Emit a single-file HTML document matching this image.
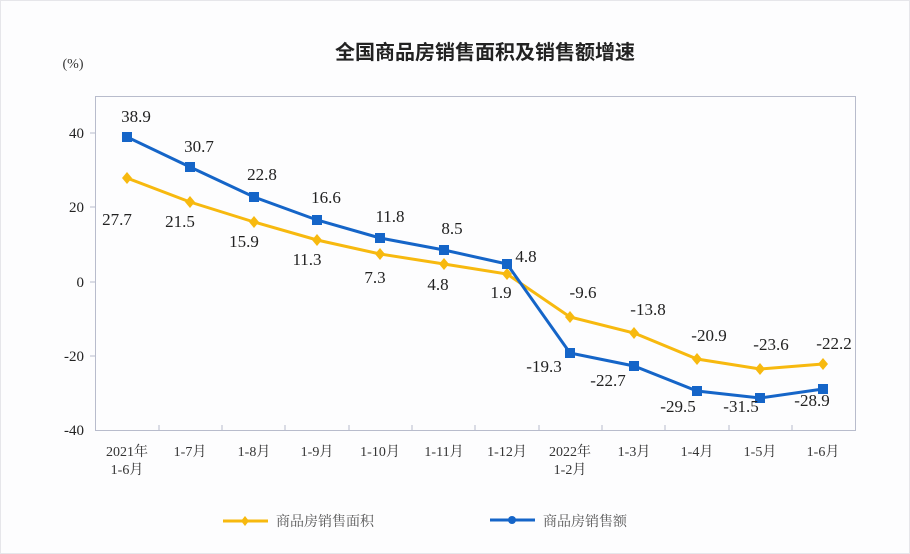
<!DOCTYPE html>
<html><head><meta charset="utf-8"><style>
html,body{margin:0;padding:0;background:#fff;}
svg{display:block;font-family:"Liberation Serif","Noto Serif CJK SC",serif;}
</style></head><body>
<svg width="910" height="554" viewBox="0 0 910 554" xmlns="http://www.w3.org/2000/svg">
<rect x="0.5" y="0.5" width="909" height="553" fill="#fdfdfe" stroke="#e6e6ea"/>
<text x="485" y="59" text-anchor="middle" font-size="20" font-weight="bold" font-family="Liberation Sans,'Noto Sans CJK SC',sans-serif" fill="#222">全国商品房销售面积及销售额增速</text>
<text x="73" y="68" text-anchor="middle" font-size="14" fill="#333">(%)</text>
<rect x="95.5" y="96.5" width="760" height="334" fill="none" stroke="#b8bccc" stroke-width="1"/>
<g font-size="15" fill="#222" text-anchor="end">
<text x="84" y="138">40</text><text x="84" y="212">20</text><text x="84" y="287">0</text><text x="84" y="361">-20</text><text x="84" y="435">-40</text>
</g>
<g stroke="#b8bccc"><line x1="90" y1="133" x2="96" y2="133"/><line x1="90" y1="207" x2="96" y2="207"/><line x1="90" y1="282" x2="96" y2="282"/><line x1="90" y1="356" x2="96" y2="356"/>
<line x1="159" y1="425" x2="159" y2="431"/><line x1="222" y1="425" x2="222" y2="431"/><line x1="285" y1="425" x2="285" y2="431"/><line x1="349" y1="425" x2="349" y2="431"/><line x1="412" y1="425" x2="412" y2="431"/><line x1="475" y1="425" x2="475" y2="431"/><line x1="539" y1="425" x2="539" y2="431"/><line x1="602" y1="425" x2="602" y2="431"/><line x1="665" y1="425" x2="665" y2="431"/><line x1="729" y1="425" x2="729" y2="431"/><line x1="792" y1="425" x2="792" y2="431"/></g>
<g font-size="14" fill="#333" text-anchor="middle">
<text x="127" y="456">2021年</text><text x="127" y="474">1-6月</text>
<text x="190" y="456">1-7月</text><text x="254" y="456">1-8月</text><text x="317" y="456">1-9月</text><text x="380" y="456">1-10月</text><text x="444" y="456">1-11月</text><text x="507" y="456">1-12月</text>
<text x="570" y="456">2022年</text><text x="570" y="474">1-2月</text>
<text x="634" y="456">1-3月</text><text x="697" y="456">1-4月</text><text x="760" y="456">1-5月</text><text x="823" y="456">1-6月</text>
</g>
<polyline fill="none" stroke="#f7b90f" stroke-width="3" points="127,178 190,202 254,222 317,240 380,254 444,264 507,274 570,317 634,333 697,359 760,369 823,364"/>
<g fill="#f7b90f">
<path d="M127,172l5,6l-5,6l-5,-6z"/><path d="M190,196l5,6l-5,6l-5,-6z"/><path d="M254,216l5,6l-5,6l-5,-6z"/><path d="M317,234l5,6l-5,6l-5,-6z"/><path d="M380,248l5,6l-5,6l-5,-6z"/><path d="M444,258l5,6l-5,6l-5,-6z"/><path d="M507,268l5,6l-5,6l-5,-6z"/><path d="M570,311l5,6l-5,6l-5,-6z"/><path d="M634,327l5,6l-5,6l-5,-6z"/><path d="M697,353l5,6l-5,6l-5,-6z"/><path d="M760,363l5,6l-5,6l-5,-6z"/><path d="M823,358l5,6l-5,6l-5,-6z"/>
</g>
<polyline fill="none" stroke="#1565c8" stroke-width="3" points="127,137 190,167 254,197 317,220 380,238 444,250 507,264 570,353 634,366 697,391 760,398 823,389"/>
<g fill="#1565c8">
<rect x="122" y="132" width="10" height="10"/><rect x="185" y="162" width="10" height="10"/><rect x="249" y="192" width="10" height="10"/><rect x="312" y="215" width="10" height="10"/><rect x="375" y="233" width="10" height="10"/><rect x="439" y="245" width="10" height="10"/><rect x="502" y="259" width="10" height="10"/><rect x="565" y="348" width="10" height="10"/><rect x="629" y="361" width="10" height="10"/><rect x="692" y="386" width="10" height="10"/><rect x="755" y="393" width="10" height="10"/><rect x="818" y="384" width="10" height="10"/>
</g>
<g font-size="17" fill="#222" text-anchor="middle">
<text x="136" y="122">38.9</text><text x="199" y="152">30.7</text><text x="262" y="180">22.8</text><text x="326" y="203">16.6</text><text x="390" y="222">11.8</text><text x="452" y="234">8.5</text><text x="526" y="262">4.8</text>
<text x="544" y="372">-19.3</text><text x="608" y="386">-22.7</text><text x="678" y="412">-29.5</text><text x="741" y="412">-31.5</text><text x="812" y="406">-28.9</text>
<text x="117" y="225">27.7</text><text x="180" y="227">21.5</text><text x="244" y="247">15.9</text><text x="307" y="265">11.3</text><text x="375" y="283">7.3</text><text x="438" y="290">4.8</text><text x="501" y="298">1.9</text>
<text x="583" y="298">-9.6</text><text x="648" y="315">-13.8</text><text x="709" y="341">-20.9</text><text x="771" y="350">-23.6</text><text x="834" y="349">-22.2</text>
</g>
<line x1="223" y1="521" x2="268" y2="521" stroke="#f7b90f" stroke-width="3"/>
<path d="M245,516l4,5l-4,5l-4,-5z" fill="#f7b90f"/>
<text x="276" y="526" font-size="14" fill="#555" font-family="'Noto Serif CJK SC',serif">商品房销售面积</text>
<line x1="490" y1="520" x2="535" y2="520" stroke="#1565c8" stroke-width="3"/>
<circle cx="512" cy="520" r="4" fill="#1565c8"/>
<text x="543" y="526" font-size="14" fill="#555" font-family="'Noto Serif CJK SC',serif">商品房销售额</text>
</svg>
</body></html>
